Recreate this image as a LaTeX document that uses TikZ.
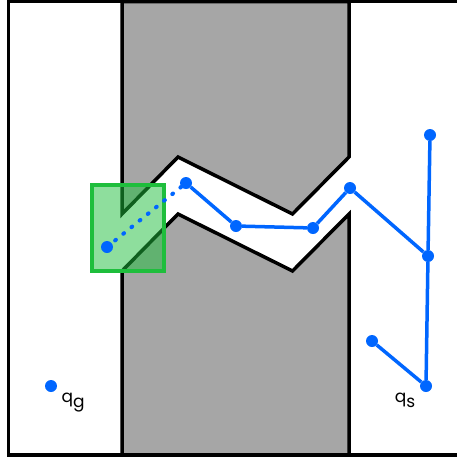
\documentclass[tikz,border=0pt]{standalone}
\usepackage{fontspec}
\setsansfont{Poppins}
\usetikzlibrary{positioning}

\definecolor{obstgray}{RGB}{166,166,166}
\definecolor{treeblue}{RGB}{0,102,255}
\definecolor{boxgreen}{RGB}{30,190,60}

\tikzset{
  vtx/.style={circle, fill=treeblue, inner sep=0pt, minimum size=12pt},
  edge/.style={treeblue, line width=3.5pt},
  wall/.style={fill=obstgray, draw=black, line width=3.5pt},
  lbl/.style={font=\sffamily\fontsize{17}{18}\selectfont, inner sep=0pt}
}

\begin{document}
\begin{tikzpicture}[x=1pt, y=-1pt]
\useasboundingbox (0,0) rectangle (457,458);

% obstacle band with the narrow passage
\draw[wall] (122,1.5) -- (349,1.5) -- (349,157) -- (292.5,214) -- (178,157) -- (122,214) -- cycle;
\draw[wall] (122,271) -- (178,214) -- (292.5,271) -- (349,214) -- (349,455) -- (122,455) -- cycle;

% workspace border
\draw[line width=3.5pt] (8.5,1.5) rectangle (462,455);

% sampling region
\fill[boxgreen, fill opacity=0.5] (92,185) rectangle (164,271);
\draw[boxgreen, line width=3.5pt] (92,185) rectangle (164,271);

% tree vertices
\node[vtx] (g) at (51,386) {};
\node[vtx] (s) at (426,386) {};
\node[vtx] (a) at (372,341) {};
\node[vtx] (b) at (428,256) {};
\node[vtx] (c) at (430,135) {};
\node[vtx] (d) at (350,188) {};
\node[vtx] (e) at (313,228) {};
\node[vtx] (f) at (236,226) {};
\node[vtx] (h) at (186,183) {};
\node[vtx] (n) at (107,247) {};

% tree edges
\draw[edge] (s) -- (a);
\draw[edge] (s) -- (b);
\draw[edge] (b) -- (c);
\draw[edge] (b) -- (d);
\draw[edge] (d) -- (e);
\draw[edge] (e) -- (f);
\draw[edge] (f) -- (h);
\draw[edge, line width=4pt, line cap=round, dash pattern=on 1pt off 9.5pt] (h) -- (n);

% labels
\node[lbl] (qg) at (73,403) {q\raisebox{-5pt}{g}};
\node[lbl] (qs) at (405,400) {q\raisebox{-5pt}{s}};
\end{tikzpicture}
\end{document}
